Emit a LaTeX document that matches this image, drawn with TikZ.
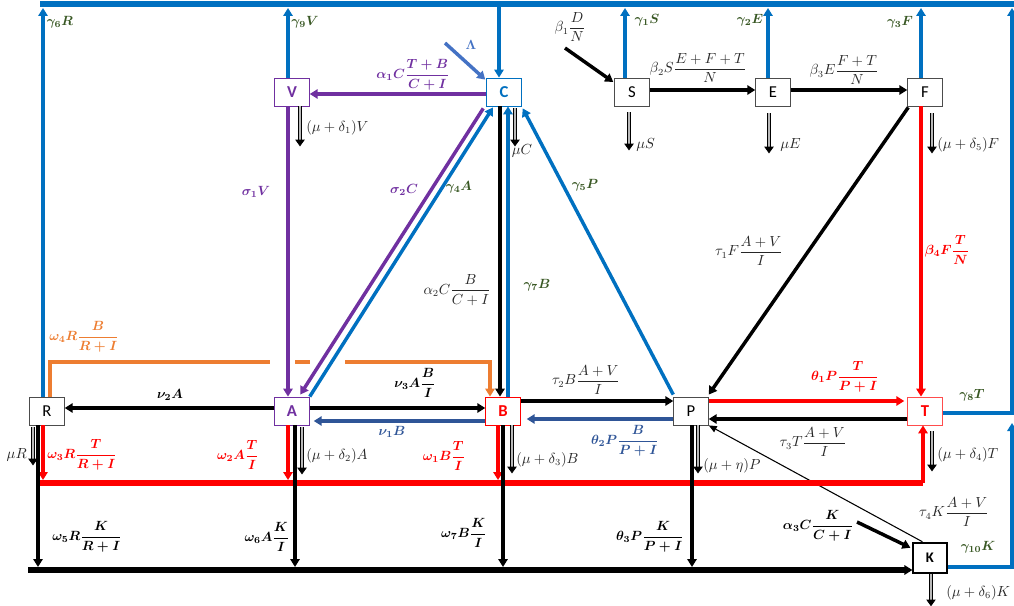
\documentclass[tikz,border=0pt]{standalone}
\usepackage{amsmath}
\usepackage{fontspec}
\usepackage{bm}
\newfontfamily\boxfont{Carlito}
\usetikzlibrary{arrows.meta,calc}
\definecolor{cblue}{HTML}{0070C0}
\definecolor{cpurple}{HTML}{7030A0}
\definecolor{cred}{HTML}{FF0000}
\definecolor{corange}{HTML}{ED7D31}
\definecolor{cgreen}{HTML}{385723}
\definecolor{cdblue}{HTML}{2F5597}
\definecolor{clam}{HTML}{4472C4}
\definecolor{cgray}{HTML}{262626}
\tikzset{
  box/.style={draw=gray!60!black, line width=0.6pt, fill=white, minimum width=26pt, minimum height=21pt, inner sep=0pt, font=\boxfont\fontsize{12.5}{14}\selectfont},
  boxb/.style={box, font=\boxfont\fontsize{12.5}{14}\selectfont\bfseries},
  tipA/.style={-{Triangle[length=6pt,width=7pt]}},
  flow/.style={line width=2.6pt, tipA},
  bus/.style={line width=4.5pt},
  loss/.style={draw=black, double=gray!55, double distance=2.2pt, line width=0.6pt, -{Triangle[length=5pt,width=7pt]}},
  lab/.style={font=\fontsize{10.5}{12}\selectfont, inner sep=0pt, text=cgray},
  blab/.style={font=\fontsize{10}{12}\selectfont\boldmath, inner sep=0pt},
}
\begin{document}
\begin{tikzpicture}[x=0.75pt,y=-0.75pt]
\useasboundingbox (0,0) rectangle (1014,606);
% ---------------- nodes
\node[box] (R) at (47,411) {R};
\node[boxb, draw=cpurple, text=cpurple] (A) at (292,411) {A};
\node[boxb, draw=cred, text=cred] (B) at (503,411) {B};
\node[box] (P) at (691,411) {P};
\node[boxb, draw=cred!70, text=cred] (T) at (925,411) {T};
\node[boxb, draw=black, line width=1.4pt, minimum width=25pt, minimum height=23pt, font=\boxfont\fontsize{11}{12}\selectfont\bfseries] (K) at (930,558) {K};
\node[boxb, draw=cpurple, text=cpurple] (V) at (292,92) {V};
\node[boxb, draw=cblue, text=cblue] (C) at (504,92) {C};
\node[box] (S) at (632,92) {S};
\node[box] (E) at (773,92) {E};
\node[box] (F) at (925,92) {F};
% ---------------- coordinates
\coordinate (busL) at (40,4);
\coordinate (busR) at (1016,4);
\coordinate (g6top) at (43,8);
\coordinate (g9top) at (288,8);
\coordinate (cTop) at (499,4);
\coordinate (g1top) at (625,8);
\coordinate (g2top) at (768,8);
\coordinate (g3top) at (921,8);
\coordinate (rTop) at (1012,8);
\coordinate (rMid) at (1012,413);
\coordinate (rLow) at (1012,423);
\coordinate (rBot) at (1012,567);
\coordinate (lamS) at (445,43);
\coordinate (b1S) at (565,48);
\coordinate (a3S) at (857,522);
\coordinate (oR) at (50,362);
\coordinate (oG1) at (270,362);
\coordinate (oG2) at (295,362);
\coordinate (oG3) at (310,362);
\coordinate (oG4) at (345,362);
\coordinate (oB) at (490,362);
\coordinate (redL) at (40,483);
\coordinate (redR) at (923,483);
\coordinate (blkL) at (28,570);
% ---------------- blue top bus
\draw[cblue, bus] (busL) -- (busR);
\draw[cblue, flow] ($(R.north)+(-4,0)$) -- (g6top);
\draw[cblue, flow] ($(V.north)+(-4,0)$) -- (g9top);
\draw[cblue, flow] (cTop) -- ($(C.north)+(-5,0)$);
\draw[cblue, flow] ($(S.north)+(-7,0)$) -- (g1top);
\draw[cblue, flow] ($(E.north)+(-5,0)$) -- (g2top);
\draw[cblue, flow] ($(F.north)+(-4,0)$) -- (g3top);
\draw[cblue, flow] ($(T.east)+(0,2)$) -- (rMid) -- (rTop);
\draw[cblue, flow] ($(K.east)+(0,9)$) -- (rBot) -- (rLow);
\draw[clam, flow] (lamS) -- ($(C.north west)+(-1,2)$);
% ---------------- purple
\draw[cpurple, flow] ($(C.west)+(0,2)$) -- ($(V.east)+(0,2)$);
\draw[cpurple, flow] ($(V.south)+(-4,0)$) -- ($(A.north)+(-4,0)$);
\draw[cpurple, flow] ($(C.south west)+(-3,2)$) -- ($(A.north east)+(-9.5,-2)$);
% ---------------- around C
\draw[cblue, flow] (A.north east) -- ($(C.south)+(-11,1)$);
\draw[black, flow] ($(C.south)+(-4,0)$) -- ($(B.north)+(-3,0)$);
\draw[cblue, flow] ($(B.north)+(5,0)$) -- ($(C.south)+(4,0)$);
\draw[cblue, flow] ($(P.north west)+(0,-2)$) -- ($(C.south east)+(1,2)$);
\draw[loss] ($(C.south)+(11,2)$) -- ++(0,38);
\draw[loss] ($(V.south)+(8,0)$) -- ++(0,40);
% ---------------- S E F
\draw[black, flow] (b1S) -- ($(S.west)+(-1,-10)$);
\draw[black, flow] ($(S.east)+(0,-2)$) -- ($(E.west)+(0,-2)$);
\draw[black, flow] ($(E.east)+(0,-2)$) -- ($(F.west)+(0,-2)$);
\draw[loss] ($(S.south)+(-3,6)$) -- ++(0,38);
\draw[loss] ($(E.south)+(-4,7)$) -- ++(0,40);
\draw[loss] ($(F.south)+(7,7)$) -- ++(0,40);
\draw[cred, flow] ($(F.south)+(-4,0)$) -- ($(T.north)+(-4,0)$);
\draw[black, flow] ($(F.south west)+(1,1)$) -- ($(P.north east)+(0,-2)$);
% ---------------- orange
\draw[corange, line width=3.2pt] ($(R.north)+(3,0)$) -- (oR) -- (oG1);
\draw[corange, line width=3.2pt] (oG2) -- (oG3);
\draw[corange, line width=3.2pt, tipA] (oG4) -- (oB) -- ($(B.north)+(-13,0)$);
% ---------------- middle row
\draw[black, flow] ($(A.west)+(0,-3)$) -- ($(R.east)+(0,-3)$);
\draw[black, flow] ($(A.east)+(0,-3)$) -- ($(B.west)+(0,-3)$);
\draw[cdblue, flow] ($(B.west)+(0,10)$) -- ($(A.east)+(4,10)$);
\draw[black, flow] ($(B.east)+(0,-10)$) -- ($(P.west)+(0,-10)$);
\draw[cdblue, flow] ($(P.west)+(0,8)$) -- ($(B.east)+(6,8)$);
\draw[cred, flow] ($(P.east)+(0,-10)$) -- ($(T.west)+(-3,-10)$);
\draw[black, flow] ($(T.west)+(0,8)$) -- ($(P.east)+(0,8)$);
\draw[black, line width=0.8pt, -{Triangle[length=6pt,width=5pt]}] ($(K.north west)+(10,0)$) -- (P.south east);
\draw[black, flow] (a3S) -- ($(K.north west)+(-2,6)$);
% ---------------- red bus
\draw[cred, line width=4.5pt] (redL) -- (redR);
\draw[cred, flow] (redR) -- ($(T.south)+(-2,0)$);
\draw[cred, flow] ($(R.south)+(-4,0)$) -- (43,480);
\draw[cred, flow] ($(A.south)+(-4,0)$) -- (288,480);
\draw[cred, flow] ($(B.south)+(-5,0)$) -- (498,480);
% ---------------- black bus
\draw[black, bus, tipA] (blkL) -- ($(K.west)+(0,12)$);
\draw[black, flow] ($(R.south)+(-9,0)$) -- (38,567);
\draw[black, flow] ($(A.south)+(3,0)$) -- (295,567);
\draw[black, flow] (B.south) -- (503,567);
\draw[black, flow] ($(P.south)+(1,0)$) -- (692,567);
% ---------------- losses
\draw[loss] ($(R.south)+(-14,2)$) -- ++(0,38);
\draw[loss] ($(A.south)+(10,2)$) -- ++(0,47);
\draw[loss] ($(B.south)+(9,0)$) -- ++(0,48);
\draw[loss] ($(P.south)+(7,0)$) -- ++(0,48);
\draw[loss] ($(T.south)+(7,6)$) -- ++(0,40);
\draw[loss] ($(K.south)+(1,0)$) -- ++(0,32);
% ---------------- labels
\node[blab, text=cgreen] (l1) at (60,22) {$\gamma_6R$};
\node[blab, text=cgreen] (l2) at (305,22) {$\gamma_9V$};
\node[blab, text=clam] (l3) at (471,45) {$\Lambda$};
\node[blab, text=cpurple] (l4) at (413,75) {$\alpha_1C\dfrac{T+B}{C+I}$};
\node[lab] (l5) at (570,27) {$\beta_1\dfrac{D}{N}$};
\node[blab, text=cgreen] (l6) at (647,20) {$\gamma_1S$};
\node[blab, text=cgreen] (l7) at (750,20) {$\gamma_2E$};
\node[blab, text=cgreen] (l8) at (900,22) {$\gamma_3F$};
\node[lab] (l9) at (698,68) {$\beta_2S\dfrac{E+F+T}{N}$};
\node[lab] (l10) at (844,70) {$\beta_3E\dfrac{F+T}{N}$};
\node[lab, anchor=west] (l11) at (636,145) {$\mu S$};
\node[lab, anchor=west] (l12) at (780,145) {$\mu E$};
\node[lab, anchor=west] (l13) at (937,145) {$(\mu+\delta_5)F$};
\node[lab, anchor=west] (l14) at (306,128) {$(\mu+\delta_1)V$};
\node[lab] (l15) at (522,151) {$\mu C$};
\node[blab, text=cpurple] (l16) at (256,192) {$\sigma_1V$};
\node[blab, text=cpurple] (l17) at (404,190) {$\sigma_2C$};
\node[blab, text=cgreen] (l18) at (459,187) {$\gamma_4A$};
\node[blab, text=cgreen] (l19) at (585,185) {$\gamma_5P$};
\node[lab] (l20) at (457,290) {$\alpha_2C\dfrac{B}{C+I}$};
\node[blab, text=cgreen] (l21) at (537,285) {$\gamma_7B$};
\node[lab] (l22) at (749,251) {$\tau_1F\dfrac{A+V}{I}$};
\node[blab, text=cred] (l23) at (947,250) {$\beta_4F\dfrac{T}{N}$};
\node[blab, text=corange] (l24) at (84,337) {$\omega_4R\dfrac{B}{R+I}$};
\node[blab, text=black] (l25) at (170,395) {$\nu_2A$};
\node[blab, text=black] (l26) at (415,383) {$\nu_3A\dfrac{B}{I}$};
\node[blab, text=cdblue] (l27) at (392,432) {$\nu_1B$};
\node[lab] (l28) at (586,380) {$\tau_2B\dfrac{A+V}{I}$};
\node[blab, text=cdblue] (l29) at (625,441) {$\theta_2P\dfrac{B}{P+I}$};
\node[blab, text=cred] (l30) at (845,377) {$\theta_1P\dfrac{T}{P+I}$};
\node[lab] (l31) at (813,442) {$\tau_3T\dfrac{A+V}{I}$};
\node[blab, text=cgreen] (l32) at (972,395) {$\gamma_8T$};
\node[blab, text=cred] (l33) at (82,455) {$\omega_3R\dfrac{T}{R+I}$};
\node[blab, text=cred] (l34) at (238,455) {$\omega_2A\dfrac{T}{I}$};
\node[blab, text=cred] (l35) at (444,456) {$\omega_1B\dfrac{T}{I}$};
\node[lab, anchor=east] (l36) at (27,455) {$\mu R$};
\node[lab, anchor=west] (l37) at (306,456) {$(\mu+\delta_2)A$};
\node[lab, anchor=west] (l38) at (516,460) {$(\mu+\delta_3)B$};
\node[lab, anchor=west] (l39) at (703,466) {$(\mu+\eta)P$};
\node[lab, anchor=west] (l40) at (937,455) {$(\mu+\delta_4)T$};
\node[lab] (l41) at (954,512) {$\tau_4K\dfrac{A+V}{I}$};
\node[blab, text=black] (l42) at (818,526) {$\alpha_3C\dfrac{K}{C+I}$};
\node[blab, text=cgreen] (l43) at (978,547) {$\gamma_{10}K$};
\node[blab, text=black] (l44) at (87,537) {$\omega_5R\dfrac{K}{R+I}$};
\node[blab, text=black] (l45) at (267,537) {$\omega_6A\dfrac{K}{I}$};
\node[blab, text=black] (l46) at (464,533) {$\omega_7B\dfrac{K}{I}$};
\node[blab, text=black] (l47) at (650,537) {$\theta_3P\dfrac{K}{P+I}$};
\node[lab, anchor=west] (l48) at (946,593) {$(\mu+\delta_6)K$};
\end{tikzpicture}
\end{document}
